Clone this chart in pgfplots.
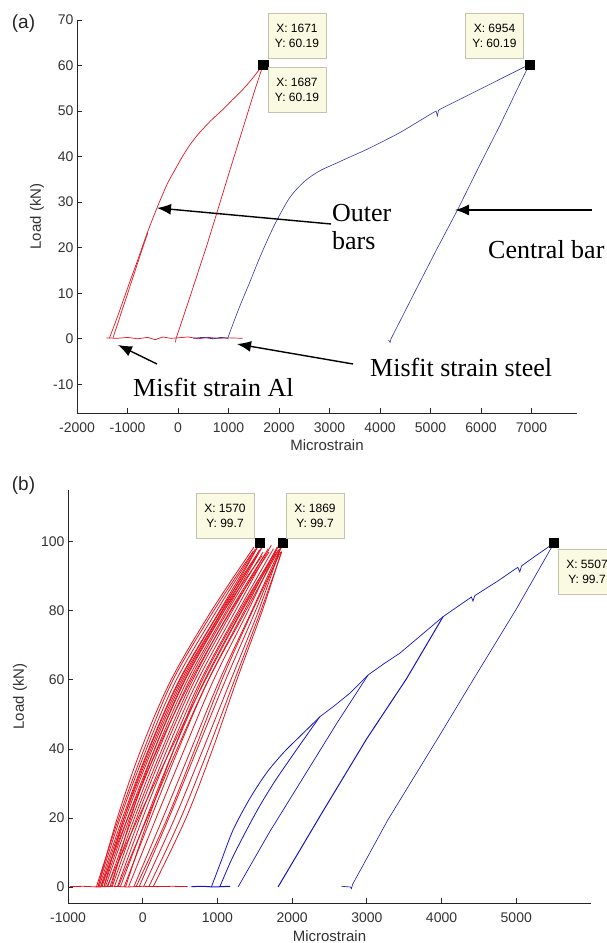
\documentclass[border=0pt]{standalone}
\usepackage{fontspec}
\setmainfont{Liberation Serif}
\setsansfont{Liberation Sans}
\usepackage{pgfplots}
\pgfplotsset{compat=1.18}
\usetikzlibrary{arrows.meta}
\definecolor{mred}{RGB}{225,20,30}
\definecolor{mblueA}{RGB}{50,50,175}
\definecolor{mblueB}{RGB}{20,20,195}
\definecolor{tipfill}{RGB}{250,250,226}
\definecolor{tipdraw}{RGB}{195,195,175}
\pgfplotsset{
  matlab/.style={
    scale only axis, anchor=south west, clip=false,
    axis x line*=bottom, axis y line*=left,
    axis line style={-, black!85, line width=0.8pt},
    tick align=inside, major tick length=5pt,
    tick style={black!85, line width=0.8pt},
    ticklabel style={font=\sffamily\fontsize{14}{14}\selectfont, text=black!80},
    xticklabel style={yshift=-6pt},
    label style={font=\sffamily\fontsize{15}{15}\selectfont, text=black!80},
  },
  rl/.style={mred, line width=0.8pt, smooth, tension=0.55},
}
\tikzset{
  tip/.style={draw=tipdraw, fill=tipfill, font=\sffamily\fontsize{12}{15}\selectfont,
    align=center, minimum width=58pt, minimum height=45pt, inner sep=1pt},
  ann/.style={anchor=base west, inner sep=0pt, font=\fontsize{26}{28}\selectfont},
  arr/.style={-{Latex[length=14pt,width=11pt]}, line width=1.4pt},
}
\begin{document}
\begin{tikzpicture}[x=1pt,y=1pt]
\path[use as bounding box] (0,0) rectangle (607,943);

% ---------------- (a) ----------------
\begin{axis}[matlab,
  at={(77pt,530pt)}, width=500pt, height=393pt,
  xmin=-2000, xmax=7900, ymin=-16.3, ymax=70,
  xtick={-2000,-1000,0,1000,2000,3000,4000,5000,6000,7000},
  xticklabels={-2000,-1000,0,1000,2000,3000,4000,5000,6000,7000},
  ytick={-10,0,10,20,30,40,50,60,70},
  yticklabels={-10,0,10,20,30,40,50,60,70},
  xlabel={Microstrain}, ylabel={Load (kN)},
  xlabel style={at={(axis description cs:0.5,-0.081)}, anchor=center},
  ylabel style={at={(axis description cs:-0.08,0.5)}, anchor=center},
]
% misfit baselines
\addplot[mred, line width=0.7pt] coordinates {(-1420,0.2)(-1200,0.1)(-1000,0.3)(-800,0.0)(-600,0.3)(-450,-0.2)(-300,0.4)(-150,0.1)(0,0.2)(200,0.4)(400,0.0)(600,0.3)(800,0.1)(1000,0.2)(1280,0.1)};
\addplot[mblueA, line width=0.8pt] coordinates {(300,0.1)(500,0.3)(700,0.0)(850,0.3)(1000,0.1)};
% outer bars (red)
\addplot[mred, line width=0.7pt, smooth, tension=0.5] coordinates {(-1360,0.1)(-1200,4.8)(-964,12.2)(-800,17.2)(-634,22.5)(-500,26.4)(-403,29.1)(-300,31.8)(-205,34.2)(-50,37.3)(92,40.1)(250,42.8)(422,45.2)(650,47.9)(884,50.3)(1080,52.5)(1281,54.7)(1460,57.0)(1644,59.6)(1671,60.19)};
\addplot[mred, line width=0.7pt] coordinates {(-1290,0.1)(-1100,6.5)(-900,13.2)(-700,20.0)(-600,23.2)};
\addplot[mred, line width=0.7pt] coordinates {(-50,-0.8)(-40,0)(290,11.0)(574,20.6)(779,28.0)(1016,36.6)(1347,48.4)(1520,54.6)(1687,60.19)};
% central bar (blue)
\addplot[mblueA, line width=0.6pt, smooth, tension=0.5] coordinates {(983,0.1)(1200,6.5)(1413,12.2)(1580,16.8)(1743,21)(1910,25)(2073,28.4)(2200,30.8)(2337,32.7)(2530,34.8)(2733,36.4)(2900,37.4)(3063,38.2)(3400,39.9)(3723,41.5)(4050,43.3)(4382,45.2)(4700,47.3)(5043,49.6)};
\addplot[mblueA, line width=0.6pt] coordinates {(5043,49.6)(5110,50.0)(5135,48.9)(5160,50.2)(5241,50.7)(5640,52.9)(6034,55.1)(6430,57.3)(6826,59.5)(6954,60.19)};
\addplot[mblueA, line width=0.6pt] coordinates {(4170,-0.3)(4200,-0.8)(4218,0)(4713,10.8)(5130,19.8)(5540,28.4)(5950,37.6)(6380,47.0)(6700,54.4)(6954,60.19)};
% data tip markers
\addplot[only marks, mark=square*, mark size=4.5pt, black] coordinates {(1671,60.19)(1687,60.19)(6954,60.19)};
\end{axis}

% ---------------- (b) ----------------
\begin{axis}[matlab,
  at={(68pt,40pt)}, width=523pt, height=413pt,
  xmin=-1000, xmax=6000, ymin=-4.64, ymax=115,
  xtick={-1000,0,1000,2000,3000,4000,5000},
  xticklabels={-1000,0,1000,2000,3000,4000,5000},
  ytick={0,20,40,60,80,100},
  yticklabels={0,20,40,60,80,100},
  xlabel={Microstrain}, ylabel={Load (kN)},
  xlabel style={at={(axis description cs:0.5,-0.08)}, anchor=center},
  ylabel style={at={(axis description cs:-0.092,0.5)}, anchor=center},
]
\addplot[mred, line width=0.8pt] coordinates {(-975,0.1)(-800,0.2)(-600,0.0)(-400,0.2)(-200,0.0)(0,0.2)(200,0.1)(400,0.2)(600,0.1)};
\addplot[mblueB, line width=1.0pt] coordinates {(650,0.1)(800,0.2)(950,0.0)(1170,0.2)};
% outer bars, many cycles (red)
\addplot[rl] coordinates {(-620,0)(-320,20)(20,40)(406,60)(950,80)(1477,97.2)};
\addplot[rl] coordinates {(-600,0)(-300,20)(50,40)(450,60)(990,80)(1510,98)};
\addplot[rl] coordinates {(-600,0)(-340,20)(-20,40)(380,60)(920,80)(1490,98.5)};
\addplot[rl] coordinates {(-585,0)(-270,20)(80,40)(490,60)(1030,80)(1550,99)};
\addplot[rl] coordinates {(-565,0)(-250,20)(110,40)(520,60)(1060,80)(1570,99.7)};
\addplot[rl] coordinates {(-560,0)(-200,20)(200,40)(650,60)(1180,80)(1690,97)};
\addplot[rl] coordinates {(-545,0)(-230,20)(130,40)(540,60)(1070,80)(1530,96)};
\addplot[rl] coordinates {(-520,0)(-200,20)(160,40)(570,60)(1090,80)(1560,97.5)};
\addplot[rl] coordinates {(-520,0)(-250,20)(90,40)(500,60)(1040,80)(1580,98)};
\addplot[rl] coordinates {(-500,0)(-175,20)(190,40)(600,60)(1120,80)(1600,98.5)};
\addplot[rl] coordinates {(-480,0)(-60,20)(380,40)(840,60)(1330,80)(1810,97.5)};
\addplot[rl] coordinates {(-470,0)(-140,20)(220,40)(630,60)(1140,80)(1610,97)};
\addplot[rl] coordinates {(-440,0)(-110,20)(260,40)(670,60)(1170,80)(1640,96.5)};
\addplot[rl] coordinates {(-420,0)(-160,20)(160,40)(560,60)(1090,80)(1600,96)};
\addplot[rl] coordinates {(-410,0)(-80,20)(290,40)(700,60)(1200,80)(1680,98)};
\addplot[rl] coordinates {(-380,0)(-40,20)(330,40)(740,60)(1240,80)(1720,99)};
\addplot[rl] coordinates {(-340,0)(0,20)(370,40)(780,60)(1280,80)(1750,98)};
\addplot[rl] coordinates {(-330,0)(60,20)(460,40)(880,60)(1380,80)(1830,98)};
\addplot[rl] coordinates {(-300,0)(50,20)(420,40)(830,60)(1320,80)(1780,97.5)};
\addplot[rl] coordinates {(-250,0)(110,20)(480,40)(880,60)(1360,80)(1800,98.5)};
\addplot[rl] coordinates {(-230,0)(80,20)(420,40)(800,60)(1300,80)(1760,96.5)};
\addplot[rl] coordinates {(-190,0)(180,20)(560,40)(950,60)(1410,80)(1820,99)};
\addplot[rl] coordinates {(-120,0)(270,20)(650,40)(1030,60)(1460,80)(1840,98)};
\addplot[rl] coordinates {(-90,0)(330,20)(700,40)(1060,60)(1470,80)(1845,97)};
\addplot[rl] coordinates {(-50,0)(350,20)(730,40)(1110,60)(1510,80)(1855,98.5)};
\addplot[rl] coordinates {(10,0)(430,20)(810,40)(1180,60)(1550,80)(1869,99.7)};
\addplot[rl] coordinates {(80,0)(510,20)(880,40)(1230,60)(1580,80)(1860,97)};
\addplot[rl] coordinates {(138,0)(580,20)(937,40)(1260,60)(1600,80)(1857,97.2)};
% central bar (blue)
\addplot[mblueB, line width=0.8pt, smooth, tension=0.5] coordinates {(919,0)(1050,7.5)(1209,16.5)(1430,25.5)(1656,33)(1880,38.8)(2102,43.6)(2240,46.5)(2370,49.3)};
\addplot[mblueB, line width=0.8pt, smooth, tension=0.5] coordinates {(1031,0)(1180,7.5)(1330,14)(1540,22.5)(1750,30)(1970,37)(2180,43.5)(2370,49.3)};
\addplot[mblueB, line width=0.7pt] coordinates {(2370,49.3)(2548,52.2)(2771,56.1)(3016,61.4)(3230,64.7)(3440,67.7)(3730,73)(4020,78.3)(4200,81)(4400,84)(4420,82.8)(4445,84.4)(4750,88.6)(5020,92.6)(5047,91.3)(5070,93)(5250,95.8)(5404,98.1)(5507,99.7)};
\addplot[mblueB, line width=0.7pt] coordinates {(1276,0)(1700,16)(2200,33.5)(2600,47.5)(3016,61.4)};
\addplot[mblueB, line width=1.0pt] coordinates {(1811,0)(2400,21.5)(3000,43)(3530,60.3)(4020,78.3)};
\addplot[mblueB, line width=0.6pt] coordinates {(2660,0.2)(2780,0)(2793,-0.5)(2810,0.8)(3280,19.4)(3976,44)(4422,60)(5000,80.5)(5507,99.7)};
\addplot[only marks, mark=square*, mark size=4.5pt, black] coordinates {(1570,99.7)(1869,99.7)(5507,99.7)};
\end{axis}

% panel letters
\node[font=\sffamily\fontsize{19}{19}\selectfont, text=black!85] at (23.5,919) {(a)};
\node[font=\sffamily\fontsize{19}{19}\selectfont, text=black!85] at (23.5,457) {(b)};

% data tips
\node[tip] at (297,907.5) {X: 1671\\Y: 60.19};
\node[tip] at (297,853) {X: 1687\\Y: 60.19};
\node[tip] at (494.5,907) {X: 6954\\Y: 60.19};
\node[tip] at (225,427.5) {X: 1570\\Y: 99.7};
\node[tip] at (315,427.5) {X: 1869\\Y: 99.7};
\node[tip] at (587,371) {X: 5507\\Y: 99.7};

% annotations
\node[ann] at (332,721) {Outer};
\node[ann] at (332,693) {bars};
\node[ann] at (488,684) {Central bar};
\node[ann] at (370,566) {Misfit strain steel};
\node[ann] at (133,546) {Misfit strain Al};
\draw[arr] (331,719) -- (157,735);
\draw[arr] (592,733) -- (455,733);
\draw[arr] (353,579) -- (237,599);
\draw[arr] (157,579) -- (118,598);
\end{tikzpicture}
\end{document}
